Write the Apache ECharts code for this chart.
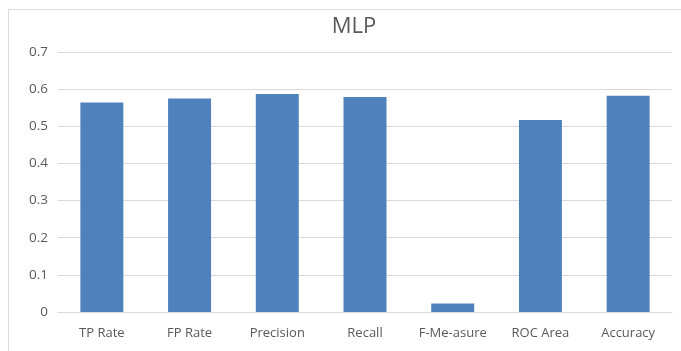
<!DOCTYPE html>
<html>
<head>
<meta charset="utf-8">
<script src="https://cdn.jsdelivr.net/npm/echarts@6/dist/echarts.min.js"></script>
<style>
  html, body { margin: 0; padding: 0; background: #fff; }
  #frame { position: absolute; left: 8px; top: 9px; width: 700px; height: 400px;
           border-left: 1px solid #d9d9d9; border-top: 1px solid #d9d9d9; }
  #chart { position: absolute; left: 0; top: 0; width: 681px; height: 351px; }
</style>
</head>
<body>
<div id="frame"></div>
<div id="chart"></div>
<script>
const categories = ['TP Rate', 'FP Rate', 'Precision', 'Recall', 'F-Me-asure', 'ROC Area', 'Accuracy'];
const values = [0.564, 0.575, 0.587, 0.579, 0.023, 0.517, 0.582];
const yTicks = ['0', '0.1', '0.2', '0.3', '0.4', '0.5', '0.6', '0.7'];

const chart = echarts.init(document.getElementById('chart'), null, { renderer: 'canvas' });
const textColor = '#595959';
const font = '"Open Sans", "DejaVu Sans", sans-serif';

chart.setOption({
  animation: false,
  title: {
    text: 'MLP',
    left: 349, top: 11,
    textAlign: 'center',
    textStyle: { fontFamily: font, fontSize: 22, fontWeight: 'normal', color: textColor }
  },
  grid: { left: 58, right: 9, top: 52, bottom: 39, containLabel: false },
  xAxis: {
    type: 'category',
    data: categories,
    axisTick: { show: false },
    axisLine: { show: true, lineStyle: { color: '#d9d9d9', width: 1 } },
    axisLabel: { color: textColor, fontFamily: font, fontSize: 13, margin: 15, interval: 0, hideOverlap: false }
  },
  yAxis: {
    type: 'value',
    min: 0, max: 0.7, interval: 0.1,
    axisLine: { show: false },
    axisTick: { show: false },
    splitLine: { lineStyle: { color: '#d9d9d9', width: 1 } },
    axisLabel: {
      color: textColor, fontFamily: font, fontSize: 13.5, margin: 10,
      formatter: v => yTicks[Math.round(v * 10)]
    }
  },
  series: [{
    type: 'bar',
    data: values,
    barWidth: '49%',
    itemStyle: { color: '#4f81bd' }
  }]
});
</script>
</body>
</html>
